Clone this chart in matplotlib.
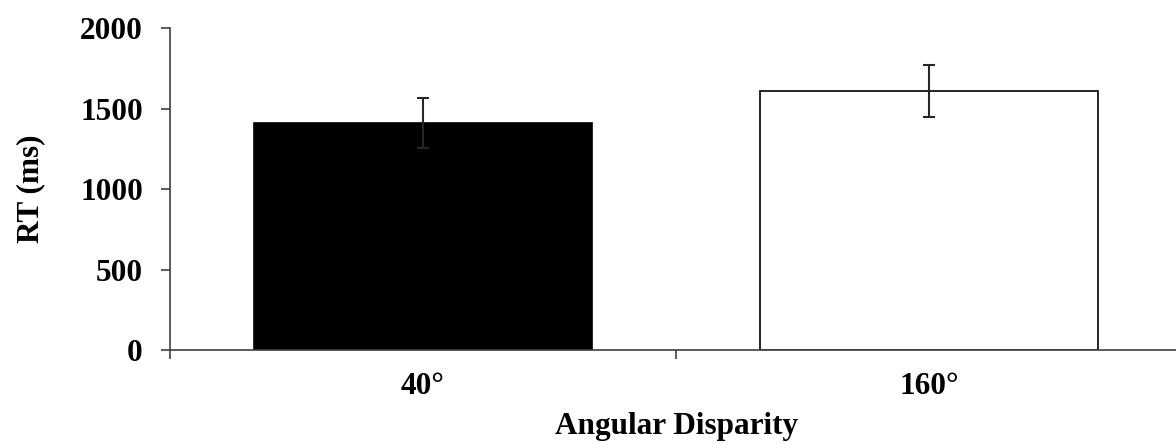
import matplotlib.pyplot as plt

conditions = ['40°', '160°']
rt_means = [1410, 1611]
rt_errors = [153, 162]
bar_colors = ['black', 'white']

plt.rcParams['font.family'] = ['Liberation Serif', 'DejaVu Serif']
plt.rcParams['font.weight'] = 'bold'

fig = plt.figure(figsize=(11.76, 4.44), dpi=100)
ax = fig.add_axes([0.1446, 0.2117, 0.8605, 0.7252])

positions = [i + 0.5 for i in range(len(conditions))]
ax.bar(positions, rt_means, width=0.668, color=bar_colors,
       edgecolor='black', linewidth=1.2, zorder=2)
ax.errorbar(positions, rt_means, yerr=rt_errors, fmt='none',
            ecolor='#262626', elinewidth=1.5, capsize=4.5, capthick=1.5, zorder=3)

ax.set_xlim(0, len(conditions))
ax.set_ylim(0, 2000)
ax.set_yticks([0, 500, 1000, 1500, 2000])

# category boundaries get the tick marks, the labels sit in between
ax.set_xticks(range(len(conditions) + 1))
ax.set_xticklabels([])
ax.set_xticks(positions, minor=True)
ax.set_xticklabels(conditions, minor=True)
ax.tick_params(axis='x', which='minor', length=0, pad=16, labelsize=22.5)
ax.tick_params(axis='x', which='major', length=6.5, width=1.2, color='#404040')
ax.tick_params(axis='y', length=6.5, width=1.2, color='#404040', pad=13, labelsize=22.5)

for side in ['top', 'right']:
    ax.spines[side].set_visible(False)
for side in ['left', 'bottom']:
    ax.spines[side].set_color('#404040')
    ax.spines[side].set_linewidth(1.2)

ax.set_xlabel('Angular Disparity', fontsize=22.5, fontweight='bold', labelpad=8)
ax.set_ylabel('RT (ms)', fontsize=22.5, fontweight='bold', labelpad=25)

fig.savefig('out.png', dpi=100)
